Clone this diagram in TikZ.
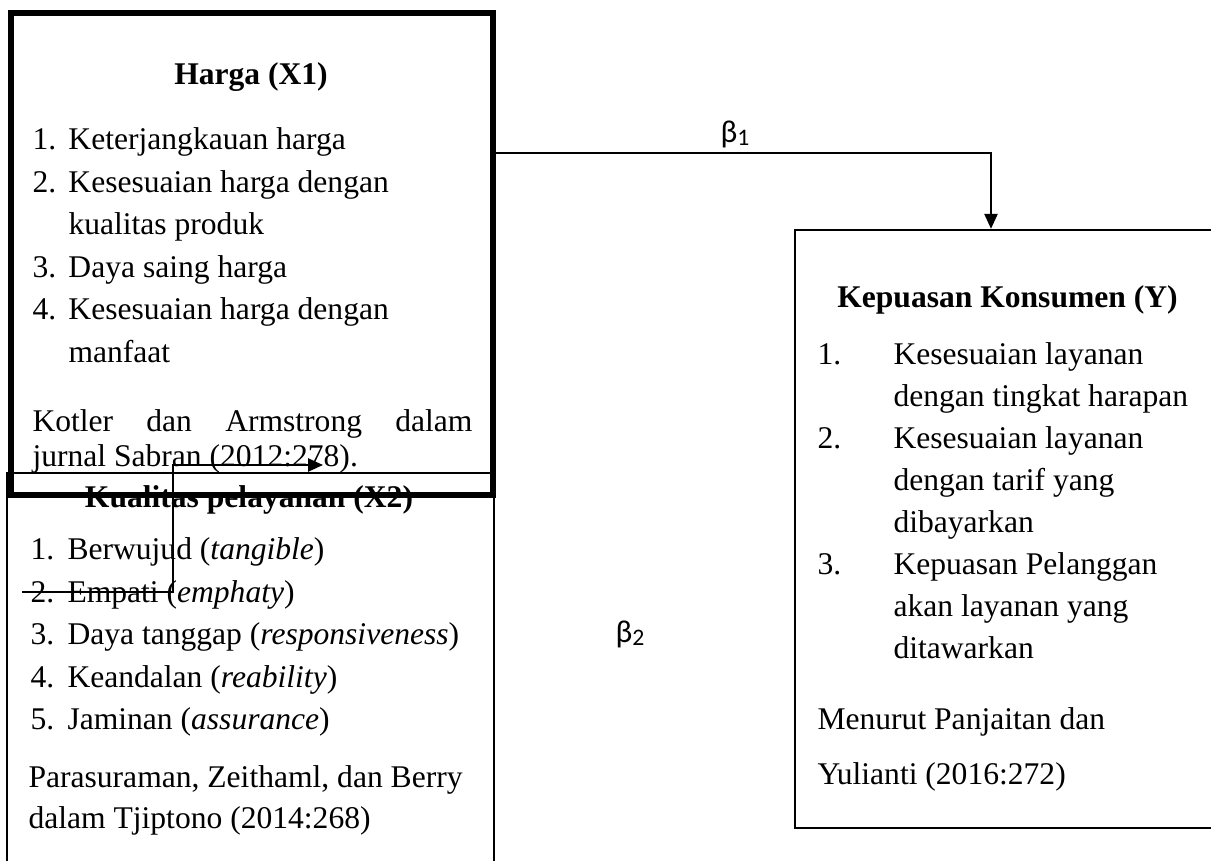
\documentclass[tikz,border=0pt]{standalone}
\usepackage{fontspec}
\setmainfont{Liberation Serif}
\newfontfamily\betafont{Carlito}
\usetikzlibrary{arrows.meta}

\begin{document}
\begin{tikzpicture}[x=0.38pt, y=-0.38pt, >={Triangle[length=5.7pt,width=5pt]},
    font=\fontsize{12}{16}\selectfont,
    txt/.style={inner sep=0pt, anchor=base west},
    ttl/.style={inner sep=0pt, anchor=base, font=\fontsize{12}{16}\selectfont\bfseries},
    thinbox/.style={draw, line width=0.8pt, inner sep=0pt},
    thickbox/.style={draw, line width=2.1pt, inner sep=0pt},
    arr/.style={->, line width=0.8pt}]
            \useasboundingbox (0,0) rectangle (1211,861);

            % Define the boxes
            \node[thinbox, minimum width=185.06pt, minimum height=162.26pt] (kualitas) at (250.5,686.5) {};
            \node[thinbox, line width=0.9pt, minimum width=161.5pt, minimum height=227.24pt] (kepuasan) at (1007.5,529) {};

            % Harga (X1)
            \node[ttl] (hTitle) at (251,85) {Harga (X1)};
            \foreach \yy/\nn/\tt [count=\i] in {150/1./Keterjangkauan harga, 192.5/2./Kesesuaian harga dengan,
                235//kualitas produk, 277.5/3./Daya saing harga, 320/4./Kesesuaian harga dengan, 362.5//manfaat}
                \node[txt] (h\i) at (32,\yy) {\makebox[13.68pt][l]{\nn}\tt};
            \node[txt] (hSrc1) at (32,432) {\makebox[167.2pt][s]{Kotler dan Armstrong dalam}};
            \node[txt] (hSrc2) at (32,467) {jurnal Sabran (2012:278).};

            % Kualitas pelayanan (X2)
            \node[ttl] (kTitle) at (249,508) {Kualitas pelayanan (X2)};
            \foreach \yy/\nn/\tt [count=\i] in {560/1./Berwujud (\textit{tangible}), 602.5/2./Empati (\textit{emphaty}),
                645/3./Daya tanggap (\textit{responsiveness}), 687.5/4./Keandalan (\textit{reability}),
                730/5./Jaminan (\textit{assurance})}
                \node[txt] (k\i) at (30,\yy) {\makebox[14.06pt][l]{\nn}\tt};
            \node[txt] (kSrc1) at (28,788) {Parasuraman, Zeithaml, dan Berry};
            \node[txt] (kSrc2) at (28,828) {dalam Tjiptono (2014:268)};

            % Kepuasan Konsumen (Y)
            \node[ttl] (yTitle) at (1007.5,308) {Kepuasan Konsumen (Y)};
            \foreach \yy/\nn/\tt [count=\i] in {365/1./Kesesuaian layanan, 407//dengan tingkat harapan,
                449/2./Kesesuaian layanan, 491//dengan tarif yang, 533//dibayarkan,
                575/3./Kepuasan Pelanggan, 617//akan layanan yang, 659//ditawarkan}
                \node[txt] (y\i) at (817,\yy) {\makebox[28.88pt][l]{\nn}\tt};
            \node[txt] (ySrc1) at (817,730) {Menurut Panjaitan dan};
            \node[txt] (ySrc2) at (817,785) {Yulianti (2016:272)};

            % Draw the thick box on top
            \node[thickbox, minimum width=183.16pt, minimum height=183.16pt] (harga) at (252,254) {};

            % Define the bends
            \coordinate (B1) at (991,153);
            \coordinate (P1) at (22,592);
            \coordinate (P2) at (173,465);
            \coordinate (P3) at (323,465);

            % Draw the arrows
            \draw[arr] (harga.east |- B1) -- (B1) -- (B1 |- kepuasan.north);
            \draw[arr] (P1) -| (P2) -- (P3);

            % Betas
            \node[inner sep=0pt, anchor=base] (beta1) at (735,143) {\betafont β\raisebox{-1pt}{\fontsize{9}{10}\selectfont 1}};
            \node[inner sep=0pt, anchor=base] (beta2) at (630,643) {\betafont β\raisebox{-1pt}{\fontsize{9}{10}\selectfont 2}};

        \end{tikzpicture}
\end{document}
